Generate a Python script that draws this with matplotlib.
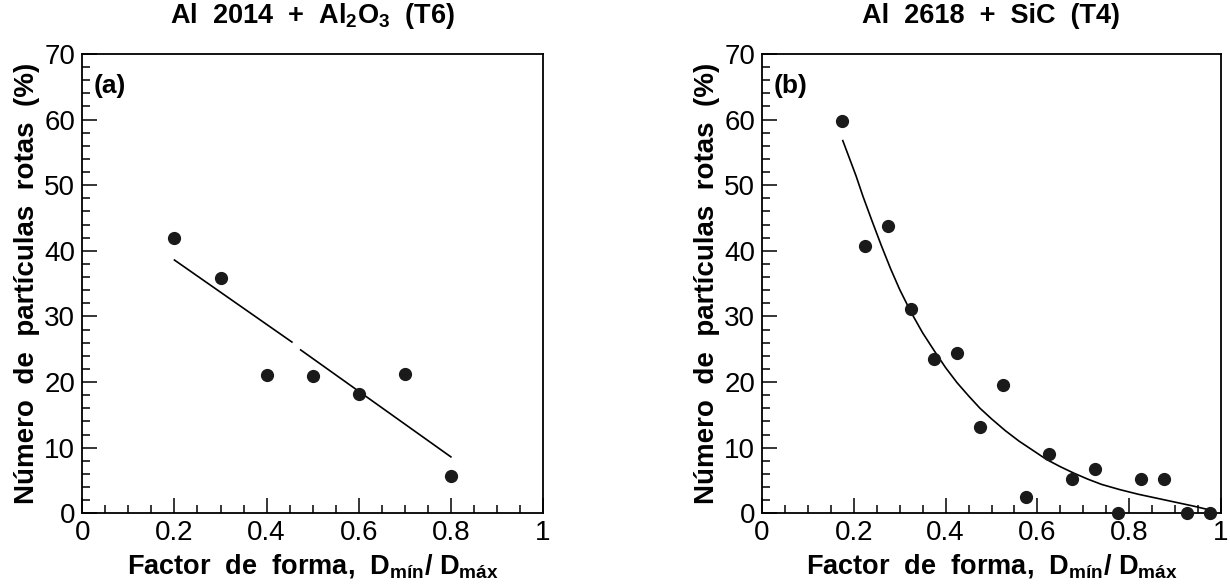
import numpy as np
import matplotlib
matplotlib.use("Agg")
import matplotlib.pyplot as plt
from matplotlib.ticker import MultipleLocator, FixedLocator, FuncFormatter

plt.rcParams['font.family'] = ['Liberation Sans', 'DejaVu Sans']
plt.rcParams['mathtext.fontset'] = 'custom'
plt.rcParams['mathtext.rm'] = 'Liberation Sans:bold'
plt.rcParams['mathtext.bf'] = 'Liberation Sans:bold'
plt.rcParams['mathtext.it'] = 'Liberation Sans:bold'

# ---------------- data ----------------
# Panel (a): Al 2014 + Al2O3 (T6)
a_x = [0.2, 0.3, 0.4, 0.5, 0.6, 0.7, 0.8]
a_y = [41.9, 35.8, 21.1, 20.9, 18.2, 21.3, 5.7]
# linear fit line (with small break as in the original)
a_fit_x = [0.2, 0.455, np.nan, 0.474, 0.8]
a_fit_y = [38.6, 26.1, np.nan, 24.9, 8.6]

# Panel (b): Al 2618 + SiC (T4)
b_x = [0.175, 0.225, 0.275, 0.325, 0.375, 0.425, 0.475, 0.525, 0.575,
       0.625, 0.675, 0.725, 0.775, 0.825, 0.875, 0.925, 0.975]
b_y = [59.8, 40.7, 43.8, 31.2, 23.5, 24.5, 13.1, 19.5, 2.5,
       9.0, 5.2, 6.8, 0.0, 5.3, 5.3, 0.0, 0.0]
# fitted curve
b_fit_x = [0.176, 0.190, 0.205, 0.220, 0.240, 0.260, 0.280, 0.300, 0.325,
           0.350, 0.375, 0.400, 0.425, 0.450, 0.475, 0.500, 0.530, 0.560,
           0.590, 0.620, 0.650, 0.680, 0.710, 0.740, 0.780, 0.820, 0.860,
           0.900, 0.940, 0.976]
b_fit_y = [56.8, 54.2, 51.4, 48.3, 44.5, 40.8, 37.3, 34.1, 30.6,
           27.5, 24.8, 22.2, 19.9, 17.9, 16.0, 14.4, 12.6, 11.0,
           9.6, 8.2, 7.1, 6.1, 5.2, 4.4, 3.6, 2.9, 2.3,
           1.7, 1.1, 0.5]

titles = [r'Al  2014  +  Al$_\mathregular{2}$O$_\mathregular{3}$  (T6)',
          'Al  2618  +  SiC  (T4)']
panel_tags = ['(a)', '(b)']
xlabel = r'Factor  de  forma,  D$_\mathregular{mín}$/ D$_\mathregular{máx}$'
ylabel = 'Número  de  partículas  rotas  (%)'
xticks = [0, 0.2, 0.4, 0.6, 0.8, 1]
yticks = [0, 10, 20, 30, 40, 50, 60, 70]

# ---------------- figure ----------------
W, H = 1230, 586
fig = plt.figure(figsize=(W / 100, H / 100), dpi=100)

def box(x0, x1, y0, y1):
    return [x0 / W, 1 - y1 / H, (x1 - x0) / W, (y1 - y0) / H]

axes = [fig.add_axes(box(82.3, 543, 54, 513.3)),
        fig.add_axes(box(762, 1221, 54, 513.3))]

def fmt(v, pos):
    if abs(v) < 1e-9:
        return '0'
    if abs(v - 1) < 1e-9:
        return '1'
    return ('%.1f' % v)

datasets = [(a_x, a_y, a_fit_x, a_fit_y), (b_x, b_y, b_fit_x, b_fit_y)]
for ax, (px, py, fx, fy), title, tag in zip(axes, datasets, titles, panel_tags):
    ax.plot(fx, fy, color='black', lw=1.2, zorder=2)
    ax.plot(px, py, 'o', color='#1a1a1a', ms=8.5, mec='#1a1a1a', zorder=3,
            clip_on=False)
    ax.set_xlim(0, 1)
    ax.set_ylim(0, 70)
    ax.xaxis.set_major_locator(FixedLocator(xticks))
    ax.xaxis.set_minor_locator(MultipleLocator(0.05))
    ax.yaxis.set_major_locator(FixedLocator(yticks))
    ax.yaxis.set_minor_locator(MultipleLocator(2))
    ax.xaxis.set_major_formatter(FuncFormatter(fmt))
    ax.tick_params(which='both', direction='in', top=False, right=False,
                   width=1.1, color='black')
    ax.tick_params(which='major', length=11, labelsize=20, pad=5)
    ax.tick_params(which='minor', length=5.5)
    for s in ax.spines.values():
        s.set_linewidth(1.3)
    ax.set_title(title, fontsize=19.5, fontweight='bold', pad=22)
    ax.set_xlabel(xlabel, fontsize=19.5, fontweight='bold', labelpad=4)
    ax.set_ylabel(ylabel, fontsize=20, fontweight='bold', labelpad=3)
    ax.text(0.025, 65.1, tag, fontsize=19, fontweight='bold', va='center',
            ha='left')

fig.savefig('out.png', dpi=100)
